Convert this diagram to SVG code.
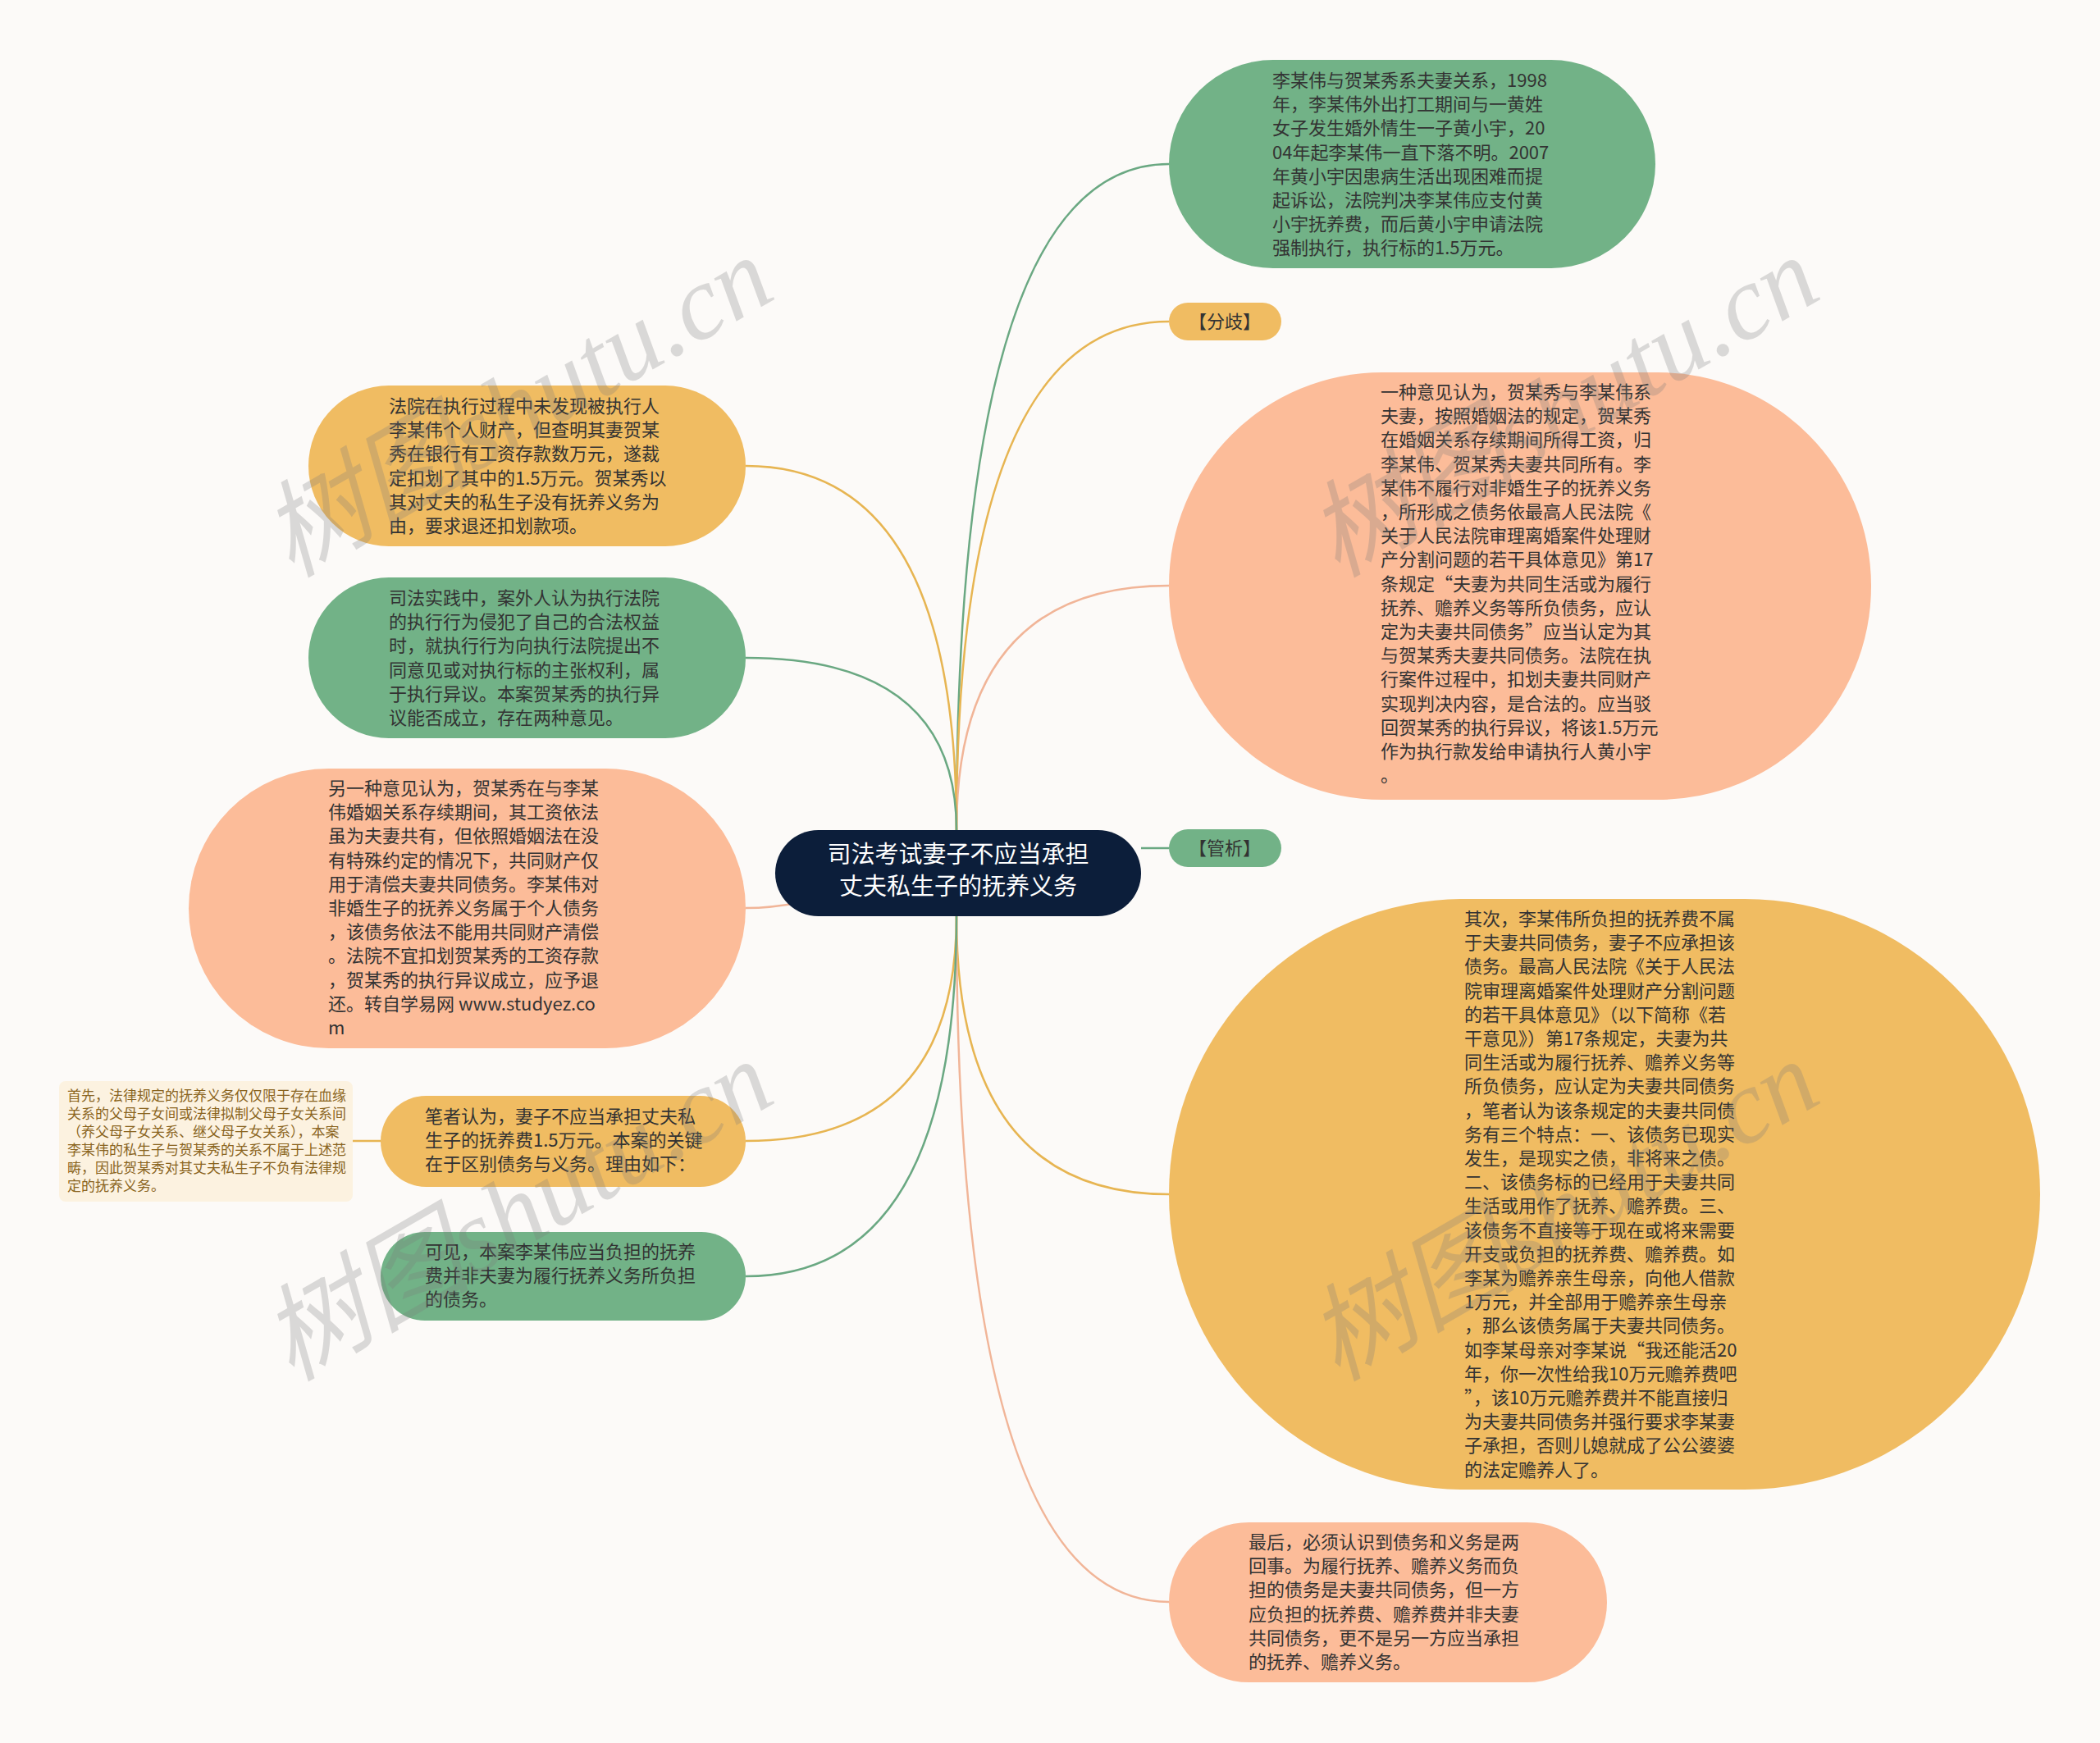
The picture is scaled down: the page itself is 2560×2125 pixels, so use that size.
<svg xmlns="http://www.w3.org/2000/svg" width="2560" height="2125" viewBox="0 0 2560 2125">
<defs>
<style>
.bg{fill:#fcfaf8}
.g{fill:#72b287}
.y{fill:#f0bc62}
.s{fill:#fcbc99}
.root{fill:#0c1e3a}
.t{font-family:"Noto Sans CJK SC","Noto Sans",sans-serif;font-size:22px;fill:#333333}
.rt{font-family:"Noto Sans CJK SC","Noto Sans",sans-serif;font-size:29px;fill:#ffffff;text-anchor:middle}
.nt{font-family:"Noto Sans CJK SC","Noto Sans",sans-serif;font-size:17px;fill:#8a6420}
.c{fill:none;stroke-width:2.5}
.cg{stroke:#6aa882}
.cy{stroke:#e7b552}
.cs{stroke:#f1b598}
.wm{font-family:"Liberation Serif","Noto Sans CJK SC",serif;font-style:italic;font-size:128px;fill:#7a7a7a;opacity:0.26}
</style>
</defs>
<rect class="bg" x="0" y="0" width="2560" height="2125"/>

<g id="connectors">
<path class="c cg" d="M1166,1012 Q1166,200 1425,200"/>
<path class="c cy" d="M1166,1012 Q1166,392 1425,392"/>
<path class="c cs" d="M1166,1012 Q1166,714 1425,714"/>
<path class="c cy" d="M1166,1012 Q1166,568 909,568"/>
<path class="c cg" d="M1166,1012 Q1166,802 909,802"/>
<path class="c cs" d="M909,1107 C1000,1107 1080,1064 1168,1064"/>
<path class="c cg" d="M1391,1034 L1425,1034"/>
<path class="c cy" d="M1166,1117 Q1166,1456 1425,1456"/>
<path class="c cs" d="M1166,1117 Q1166,1953 1425,1953"/>
<path class="c cy" d="M1166,1117 Q1166,1391 909,1391"/>
<path class="c cg" d="M1166,1117 Q1166,1556 909,1556"/>
<path class="c cy" d="M430,1391 L464,1391"/>
</g>

<g id="root">
<rect class="root" x="945" y="1012" width="446" height="105" rx="52.5"/>
<text class="rt" x="1168" y="1052">司法考试妻子不应当承担</text>
<text class="rt" x="1168" y="1091">丈夫私生子的抚养义务</text>
</g>

<g id="n1">
<rect class="g" x="1425" y="73" width="593" height="254" rx="127"/>
<text class="t" x="1551" y="106">
<tspan x="1551" dy="0">李某伟与贺某秀系夫妻关系，1998</tspan>
<tspan x="1551" dy="29.2">年，李某伟外出打工期间与一黄姓</tspan>
<tspan x="1551" dy="29.2">女子发生婚外情生一子黄小宇，20</tspan>
<tspan x="1551" dy="29.2">04年起李某伟一直下落不明。2007</tspan>
<tspan x="1551" dy="29.2">年黄小宇因患病生活出现困难而提</tspan>
<tspan x="1551" dy="29.2">起诉讼，法院判决李某伟应支付黄</tspan>
<tspan x="1551" dy="29.2">小宇抚养费，而后黄小宇申请法院</tspan>
<tspan x="1551" dy="29.2">强制执行，执行标的1.5万元。</tspan>
</text>
</g>

<g id="n2">
<rect class="y" x="1425" y="369" width="137" height="46" rx="23"/>
<text class="t" x="1493" y="400" text-anchor="middle">【分歧】</text>
</g>

<g id="n3">
<rect class="s" x="1425" y="454" width="856" height="521" rx="260"/>
<text class="t" x="1683" y="486">
<tspan x="1683" dy="0">一种意见认为，贺某秀与李某伟系</tspan>
<tspan x="1683" dy="29.2">夫妻，按照婚姻法的规定，贺某秀</tspan>
<tspan x="1683" dy="29.2">在婚姻关系存续期间所得工资，归</tspan>
<tspan x="1683" dy="29.2">李某伟、贺某秀夫妻共同所有。李</tspan>
<tspan x="1683" dy="29.2">某伟不履行对非婚生子的抚养义务</tspan>
<tspan x="1683" dy="29.2">，所形成之债务依最高人民法院《</tspan>
<tspan x="1683" dy="29.2">关于人民法院审理离婚案件处理财</tspan>
<tspan x="1683" dy="29.2">产分割问题的若干具体意见》第17</tspan>
<tspan x="1683" dy="29.2">条规定“夫妻为共同生活或为履行</tspan>
<tspan x="1683" dy="29.2">抚养、赡养义务等所负债务，应认</tspan>
<tspan x="1683" dy="29.2">定为夫妻共同债务”应当认定为其</tspan>
<tspan x="1683" dy="29.2">与贺某秀夫妻共同债务。法院在执</tspan>
<tspan x="1683" dy="29.2">行案件过程中，扣划夫妻共同财产</tspan>
<tspan x="1683" dy="29.2">实现判决内容，是合法的。应当驳</tspan>
<tspan x="1683" dy="29.2">回贺某秀的执行异议，将该1.5万元</tspan>
<tspan x="1683" dy="29.2">作为执行款发给申请执行人黄小宇</tspan>
<tspan x="1683" dy="29.2">。</tspan>
</text>
</g>

<g id="n4">
<rect class="g" x="1425" y="1011" width="137" height="46" rx="23"/>
<text class="t" x="1493" y="1042" text-anchor="middle">【管析】</text>
</g>

<g id="n5">
<rect class="y" x="1425" y="1096" width="1062" height="720" rx="360"/>
<text class="t" x="1785" y="1128">
<tspan x="1785" dy="0">其次，李某伟所负担的抚养费不属</tspan>
<tspan x="1785" dy="29.2">于夫妻共同债务，妻子不应承担该</tspan>
<tspan x="1785" dy="29.2">债务。最高人民法院《关于人民法</tspan>
<tspan x="1785" dy="29.2">院审理离婚案件处理财产分割问题</tspan>
<tspan x="1785" dy="29.2">的若干具体意见》（以下简称《若</tspan>
<tspan x="1785" dy="29.2">干意见》）第17条规定，夫妻为共</tspan>
<tspan x="1785" dy="29.2">同生活或为履行抚养、赡养义务等</tspan>
<tspan x="1785" dy="29.2">所负债务，应认定为夫妻共同债务</tspan>
<tspan x="1785" dy="29.2">，笔者认为该条规定的夫妻共同债</tspan>
<tspan x="1785" dy="29.2">务有三个特点：一、该债务已现实</tspan>
<tspan x="1785" dy="29.2">发生，是现实之债，非将来之债。</tspan>
<tspan x="1785" dy="29.2">二、该债务标的已经用于夫妻共同</tspan>
<tspan x="1785" dy="29.2">生活或用作了抚养、赡养费。三、</tspan>
<tspan x="1785" dy="29.2">该债务不直接等于现在或将来需要</tspan>
<tspan x="1785" dy="29.2">开支或负担的抚养费、赡养费。如</tspan>
<tspan x="1785" dy="29.2">李某为赡养亲生母亲，向他人借款</tspan>
<tspan x="1785" dy="29.2">1万元，并全部用于赡养亲生母亲</tspan>
<tspan x="1785" dy="29.2">，那么该债务属于夫妻共同债务。</tspan>
<tspan x="1785" dy="29.2">如李某母亲对李某说“我还能活20</tspan>
<tspan x="1785" dy="29.2">年，你一次性给我10万元赡养费吧</tspan>
<tspan x="1785" dy="29.2">”，该10万元赡养费并不能直接归</tspan>
<tspan x="1785" dy="29.2">为夫妻共同债务并强行要求李某妻</tspan>
<tspan x="1785" dy="29.2">子承担，否则儿媳就成了公公婆婆</tspan>
<tspan x="1785" dy="29.2">的法定赡养人了。</tspan>
</text>
</g>

<g id="n6">
<rect class="s" x="1425" y="1856" width="534" height="195" rx="97.5"/>
<text class="t" x="1522" y="1888">
<tspan x="1522" dy="0">最后，必须认识到债务和义务是两</tspan>
<tspan x="1522" dy="29.2">回事。为履行抚养、赡养义务而负</tspan>
<tspan x="1522" dy="29.2">担的债务是夫妻共同债务，但一方</tspan>
<tspan x="1522" dy="29.2">应负担的抚养费、赡养费并非夫妻</tspan>
<tspan x="1522" dy="29.2">共同债务，更不是另一方应当承担</tspan>
<tspan x="1522" dy="29.2">的抚养、赡养义务。</tspan>
</text>
</g>

<g id="n7">
<rect class="y" x="376" y="470" width="533" height="196" rx="98"/>
<text class="t" x="474" y="503">
<tspan x="474" dy="0">法院在执行过程中未发现被执行人</tspan>
<tspan x="474" dy="29.2">李某伟个人财产，但查明其妻贺某</tspan>
<tspan x="474" dy="29.2">秀在银行有工资存款数万元，遂裁</tspan>
<tspan x="474" dy="29.2">定扣划了其中的1.5万元。贺某秀以</tspan>
<tspan x="474" dy="29.2">其对丈夫的私生子没有抚养义务为</tspan>
<tspan x="474" dy="29.2">由，要求退还扣划款项。</tspan>
</text>
</g>

<g id="n8">
<rect class="g" x="376" y="704" width="533" height="196" rx="98"/>
<text class="t" x="474" y="737">
<tspan x="474" dy="0">司法实践中，案外人认为执行法院</tspan>
<tspan x="474" dy="29.2">的执行行为侵犯了自己的合法权益</tspan>
<tspan x="474" dy="29.2">时，就执行行为向执行法院提出不</tspan>
<tspan x="474" dy="29.2">同意见或对执行标的主张权利，属</tspan>
<tspan x="474" dy="29.2">于执行异议。本案贺某秀的执行异</tspan>
<tspan x="474" dy="29.2">议能否成立，存在两种意见。</tspan>
</text>
</g>

<g id="n9">
<rect class="s" x="230" y="937" width="679" height="341" rx="170.5"/>
<text class="t" x="400" y="969">
<tspan x="400" dy="0">另一种意见认为，贺某秀在与李某</tspan>
<tspan x="400" dy="29.2">伟婚姻关系存续期间，其工资依法</tspan>
<tspan x="400" dy="29.2">虽为夫妻共有，但依照婚姻法在没</tspan>
<tspan x="400" dy="29.2">有特殊约定的情况下，共同财产仅</tspan>
<tspan x="400" dy="29.2">用于清偿夫妻共同债务。李某伟对</tspan>
<tspan x="400" dy="29.2">非婚生子的抚养义务属于个人债务</tspan>
<tspan x="400" dy="29.2">，该债务依法不能用共同财产清偿</tspan>
<tspan x="400" dy="29.2">。法院不宜扣划贺某秀的工资存款</tspan>
<tspan x="400" dy="29.2">，贺某秀的执行异议成立，应予退</tspan>
<tspan x="400" dy="29.2">还。转自学易网 www.studyez.co</tspan>
<tspan x="400" dy="29.2">m</tspan>
</text>
</g>

<g id="n10">
<rect class="y" x="464" y="1336" width="445" height="111" rx="55.5"/>
<text class="t" x="518" y="1369">
<tspan x="518" dy="0">笔者认为，妻子不应当承担丈夫私</tspan>
<tspan x="518" dy="29.2">生子的抚养费1.5万元。本案的关键</tspan>
<tspan x="518" dy="29.2">在于区别债务与义务。理由如下：</tspan>
</text>
</g>

<g id="n11">
<rect x="72" y="1318" width="358" height="147" rx="8" fill="#fcf2e0"/>
<text class="nt" x="82" y="1342">
<tspan x="82" dy="0">首先，法律规定的抚养义务仅仅限于存在血缘</tspan>
<tspan x="82" dy="22">关系的父母子女间或法律拟制父母子女关系间</tspan>
<tspan x="82" dy="22">（养父母子女关系、继父母子女关系），本案</tspan>
<tspan x="82" dy="22">李某伟的私生子与贺某秀的关系不属于上述范</tspan>
<tspan x="82" dy="22">畴，因此贺某秀对其丈夫私生子不负有法律规</tspan>
<tspan x="82" dy="22">定的抚养义务。</tspan>
</text>
</g>

<g id="n12">
<rect class="g" x="464" y="1502" width="445" height="108" rx="54"/>
<text class="t" x="518" y="1534">
<tspan x="518" dy="0">可见，本案李某伟应当负担的抚养</tspan>
<tspan x="518" dy="29.2">费并非夫妻为履行抚养义务所负担</tspan>
<tspan x="518" dy="29.2">的债务。</tspan>
</text>
</g>

<g id="watermarks">
<text class="wm" x="355" y="705" transform="rotate(-30 355 705)">树图shutu.cn</text>
<text class="wm" x="1630" y="705" transform="rotate(-30 1630 705)">树图shutu.cn</text>
<text class="wm" x="355" y="1685" transform="rotate(-30 355 1685)">树图shutu.cn</text>
<text class="wm" x="1630" y="1685" transform="rotate(-30 1630 1685)">树图shutu.cn</text>
</g>
</svg>
